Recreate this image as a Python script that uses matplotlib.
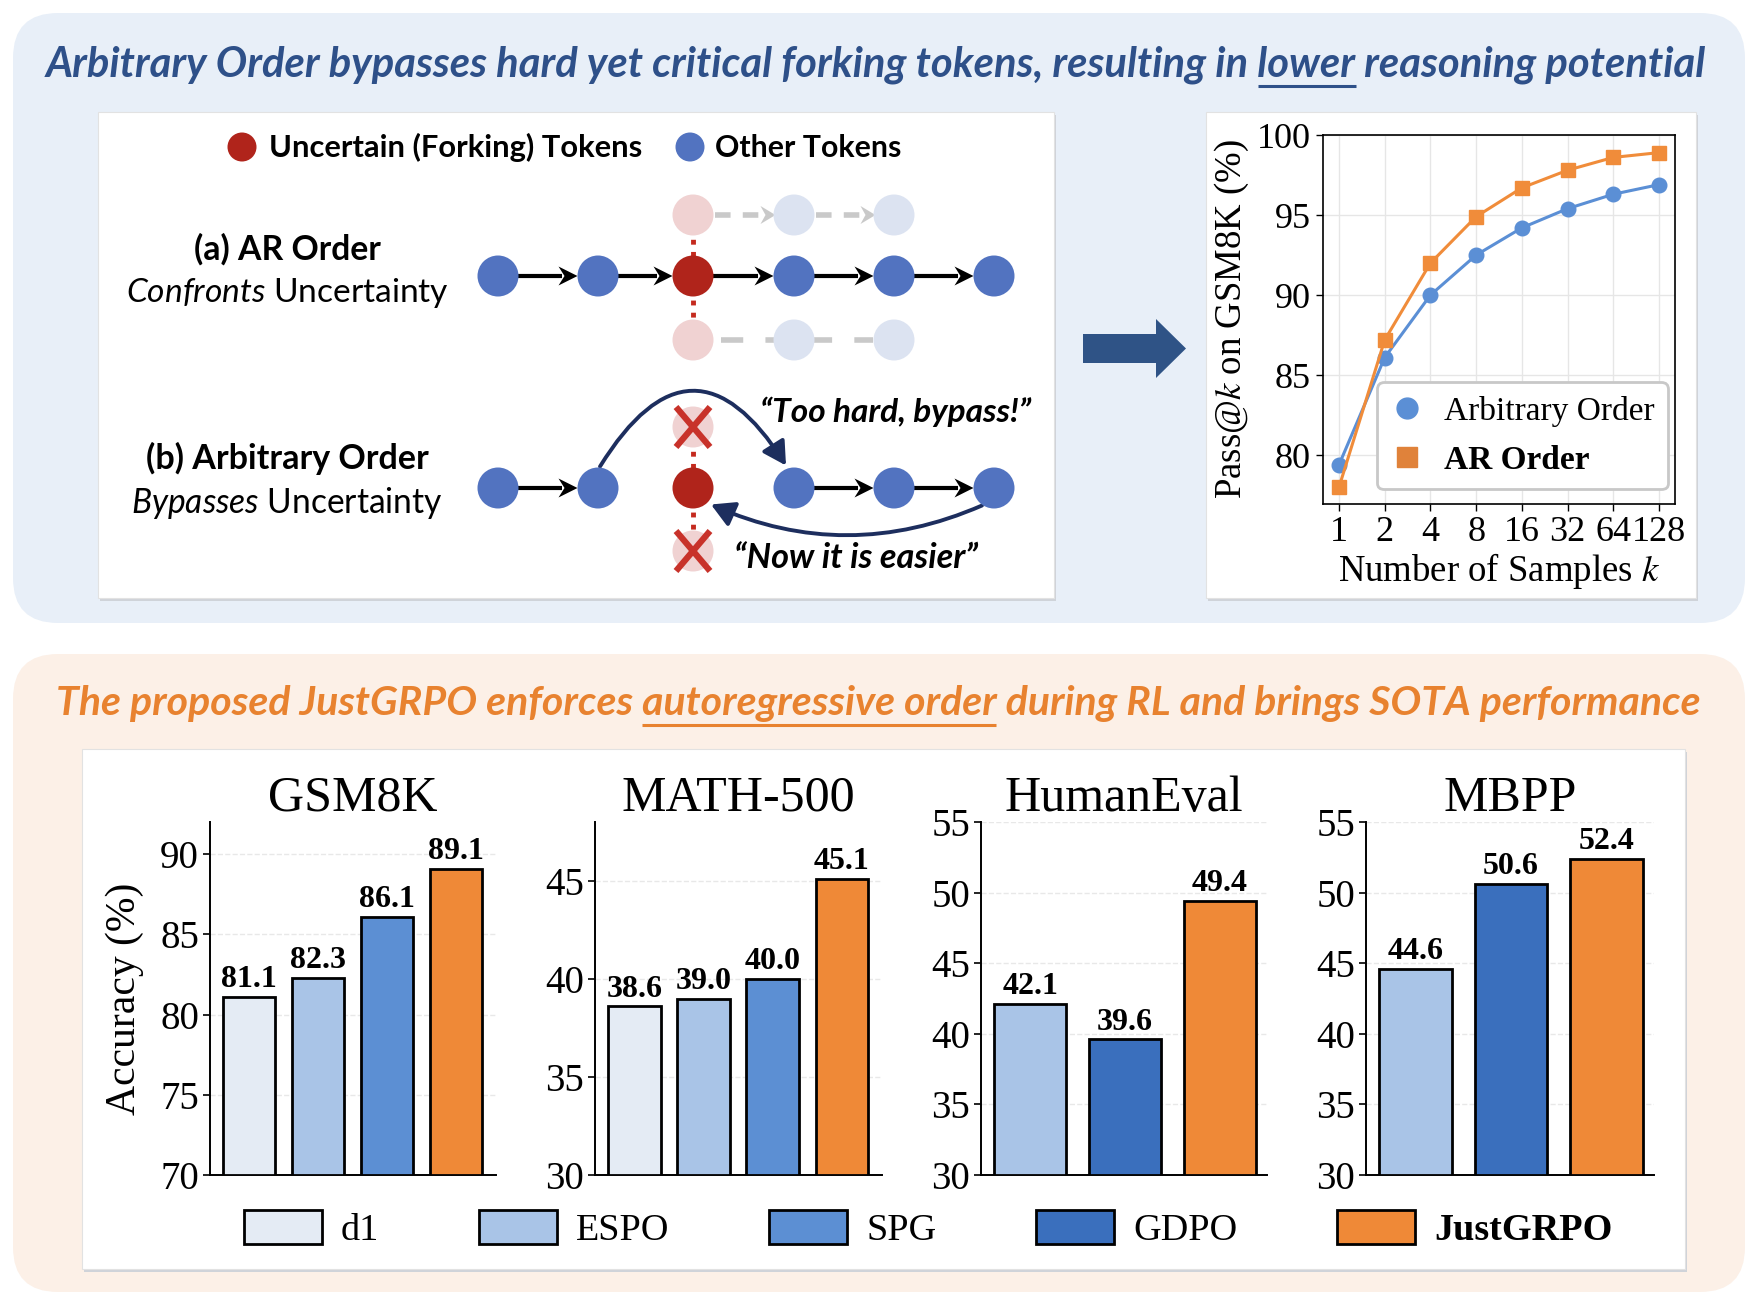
import matplotlib
matplotlib.use('Agg')
import matplotlib.pyplot as plt
from matplotlib.patches import FancyBboxPatch, Circle, FancyArrowPatch, Polygon, Rectangle, Patch
from matplotlib.lines import Line2D
import numpy as np

W, H = 1758, 1306

# ---- data: pass@k curve (top right) ----
k_labels = ['1', '2', '4', '8', '16', '32', '64', '128']
pass_arbitrary = [79.4, 86.1, 90.0, 92.5, 94.2, 95.4, 96.3, 96.9]
pass_ar = [78.0, 87.2, 92.0, 94.9, 96.7, 97.8, 98.6, 98.9]

# ---- data: benchmark bars (bottom) ----
benchmarks = ['GSM8K', 'MATH-500', 'HumanEval', 'MBPP']
bench_methods = [['d1', 'ESPO', 'SPG', 'JustGRPO'],
                 ['d1', 'ESPO', 'SPG', 'JustGRPO'],
                 ['ESPO', 'GDPO', 'JustGRPO'],
                 ['ESPO', 'GDPO', 'JustGRPO']]
bench_scores = [[81.1, 82.3, 86.1, 89.1],
                [38.6, 39.0, 40.0, 45.1],
                [42.1, 39.6, 49.4],
                [44.6, 50.6, 52.4]]
bench_ylim = [(70, 92), (30, 48), (30, 55), (30, 55)]
bench_yticks = [[70, 75, 80, 85, 90], [30, 35, 40, 45],
                [30, 35, 40, 45, 50, 55], [30, 35, 40, 45, 50, 55]]
legend_methods = ['d1', 'ESPO', 'SPG', 'GDPO', 'JustGRPO']
method_colors = {'d1': '#e4ebf4', 'ESPO': '#a9c4e7', 'SPG': '#5c8fd3',
                 'GDPO': '#3a6fbd', 'JustGRPO': '#ef8937'}

plt.rcParams['font.family'] = ['Liberation Serif', 'DejaVu Serif']
plt.rcParams['mathtext.fontset'] = 'custom'
plt.rcParams['mathtext.rm'] = 'Lato'
plt.rcParams['mathtext.it'] = 'Lato:italic'
plt.rcParams['mathtext.bf'] = 'Lato:bold'

SANS = ['Lato', 'DejaVu Sans']

fig = plt.figure(figsize=(W / 100, H / 100), dpi=100)
renderer = fig.canvas.get_renderer()

# background canvas in pixel units (y goes down)
bg = fig.add_axes([0, 0, 1, 1])
bg.set_xlim(0, W)
bg.set_ylim(H, 0)
bg.axis('off')


def text_width(s, size, **kw):
    t = bg.text(0, 0, s, fontsize=size, **kw)
    w = t.get_window_extent(renderer).width
    t.remove()
    return w


# 把文字缩放到给定宽度
def fit_text(x, y, s, width, ha='left', **kw):
    w = text_width(s, 20, **kw)
    size = 20 * width / w
    t = bg.text(x, y, s, fontsize=size, ha=ha, va='baseline', **kw)
    return t, size


def white_box(x0, y0, x1, y1):
    bg.add_patch(Rectangle((x0 + 2, y0 + 3), x1 - x0, y1 - y0, fc='#cfd3d9', ec='none', zorder=1))
    bg.add_patch(Rectangle((x0, y0), x1 - x0, y1 - y0, fc='white', ec='#e2e2e2', lw=0.8, zorder=1))


# panels
bg.add_patch(FancyBboxPatch((13, 13), 1732, 610, boxstyle='round,pad=0,rounding_size=45',
                            fc='#e8eff8', ec='none', zorder=0))
bg.add_patch(FancyBboxPatch((13, 654), 1732, 638, boxstyle='round,pad=0,rounding_size=45',
                            fc='#fcf0e7', ec='none', zorder=0))
white_box(98, 112, 1054, 598)
white_box(1206, 112, 1696, 598)
white_box(82, 749, 1685, 1269)


# titles with an underlined phrase
def title_with_underline(cx, base, s, phrase, width, color):
    kw = dict(family=SANS, fontweight='bold', fontstyle='italic', color=color)
    t, size = fit_text(cx, base, s, width, ha='center', **kw)
    total = text_width(s, size, **kw)
    left = cx - total / 2
    head = s[:s.index(phrase) + len(phrase)]
    end = left + text_width(head, size, **kw)
    start = end - text_width(phrase, size, **kw)
    bg.plot([start, end], [base + 10, base + 10], color=color, lw=2.2, solid_capstyle='butt', zorder=3)


title_with_underline(876, 76, 'Arbitrary Order bypasses hard yet critical forking tokens, resulting in lower reasoning potential',
                     'lower', 1657, '#2e5089')
title_with_underline(878, 715, 'The proposed JustGRPO enforces autoregressive order during RL and brings SOTA performance',
                     'autoregressive order', 1645, '#e8822f')

# ---- schematic (top left) ----
RED = '#b0241b'
BLUE = '#5273c0'
FRED = '#f0d2d2'
FBLUE = '#dce3f1'
GRAY = '#c9c9c9'
r = 20.5
xs = [498, 598, 693, 794, 894, 994]
ya, yb = 276, 488
y_up, y_dn = 215, 340
y_xu, y_xd = 427, 551

# legend of the schematic
bg.add_patch(Circle((242, 147), 14.5, fc=RED, ec='none', zorder=3))
bg.add_patch(Circle((690, 147), 14.5, fc=BLUE, ec='none', zorder=3))
fit_text(269, 157, 'Uncertain (Forking) Tokens', 372, family=SANS, fontweight='bold')
fit_text(715, 157, 'Other Tokens', 186, family=SANS, fontweight='bold')

fit_text(287, 260, '(a) AR Order', 187, ha='center', family=SANS, fontweight='bold')
fit_text(287, 302, r'$\mathit{Confronts}$ Uncertainty', 323, ha='center', family=SANS)
fit_text(287, 469, '(b) Arbitrary Order', 283, ha='center', family=SANS, fontweight='bold')
fit_text(287, 513, r'$\mathit{Bypasses}$ Uncertainty', 312, ha='center', family=SANS)


# 箭头：直线 + 燕尾形箭头
def arrow_head(xtip, y, color, L=19, hw=9.5, notch=6):
    bg.add_patch(Polygon([(xtip, y), (xtip - L, y - hw), (xtip - L + notch, y), (xtip - L, y + hw)],
                         closed=True, fc=color, ec='none', zorder=2.5))


def arrow(x0, x1, y):
    bg.plot([x0, x1 - 15], [y, y], color='black', lw=3.0, solid_capstyle='butt', zorder=2)
    arrow_head(x1, y, 'black')


# (a) row
bg.plot([xs[2], xs[2]], [y_up, y_dn], color='#c42a1e', lw=3.5, ls=(0, (1, 1.5)), zorder=1.5)
for i, x in enumerate(xs):
    bg.add_patch(Circle((x, ya), r, fc=RED if i == 2 else BLUE, ec='none', zorder=3))
for i in range(5):
    arrow(xs[i] + r, xs[i + 1] - r, ya)
for i, x in enumerate(xs[2:5]):
    bg.add_patch(Circle((x, y_up), r, fc=FRED if i == 0 else FBLUE, ec='none', zorder=3))
    bg.add_patch(Circle((x, y_dn), r, fc=FRED if i == 0 else FBLUE, ec='none', zorder=3))
for i in range(2, 4):
    bg.plot([xs[i] + r + 2, xs[i + 1] - r - 12], [y_up, y_up], color=GRAY, lw=4,
            ls=(0, (2.8, 2.2)), zorder=2)
    arrow_head(xs[i + 1] - r + 2, y_up, GRAY, L=15, hw=9, notch=5)
bg.plot([xs[2] + r + 8, xs[4] - r], [y_dn, y_dn], color=GRAY, lw=4,
        ls=(0, (4, 4)), zorder=2)

# (b) row
bg.plot([xs[2], xs[2]], [y_xu, y_xd], color='#c42a1e', lw=3.5, ls=(0, (1, 1.5)), zorder=1.5)
for i, x in enumerate(xs):
    bg.add_patch(Circle((x, yb), r, fc=RED if i == 2 else BLUE, ec='none', zorder=3))
for i in [0, 3, 4]:
    arrow(xs[i] + r, xs[i + 1] - r, yb)
for y in [y_xu, y_xd]:
    bg.add_patch(Circle((xs[2], y), r, fc=FRED, ec='none', zorder=3))
    d = 17
    bg.plot([xs[2] - d, xs[2] + d], [y - d - 3, y + d + 3], color='#c8322a', lw=4.5, zorder=4,
            solid_capstyle='butt')
    bg.plot([xs[2] - d, xs[2] + d], [y + d + 3, y - d - 3], color='#c8322a', lw=4.5, zorder=4,
            solid_capstyle='butt')

NAVY = '#1d2e5e'
bg.add_patch(FancyArrowPatch((xs[1] + 2, yb - r - 1), (xs[3] - 8, yb - r - 2),
                             connectionstyle='arc3,rad=-0.8',
                             arrowstyle='-|>,head_length=0.5,head_width=0.28', mutation_scale=28,
                             color=NAVY, lw=2.8, shrinkA=0, shrinkB=0, zorder=2))
bg.add_patch(FancyArrowPatch((xs[5] - 12, yb + r - 3), (xs[2] + 18, yb + r - 4),
                             connectionstyle='arc3,rad=-0.22',
                             arrowstyle='-|>,head_length=0.5,head_width=0.28', mutation_scale=28,
                             color=NAVY, lw=2.8, shrinkA=0, shrinkB=0, zorder=2))
fit_text(760, 422, '\u201cToo hard, bypass!\u201d', 271, family=SANS, fontweight='bold', fontstyle='italic')
fit_text(734, 568, '\u201cNow it is easier\u201d', 244, family=SANS, fontweight='bold', fontstyle='italic')

# big arrow
bg.add_patch(Polygon([(1083, 334), (1156, 334), (1156, 319), (1186, 348.5), (1156, 378),
                      (1156, 363), (1083, 363)], closed=True, fc='#2f5386', ec='none', zorder=3))

# ---- pass@k line plot ----
ax1 = fig.add_axes([1323 / W, 1 - 504 / H, 352 / W, 369 / H])
xk = np.arange(len(k_labels))
c_blue, c_orange = '#5b8fd5', '#f08c3a'
ax1.plot(xk, pass_arbitrary, color=c_blue, lw=2.2, marker='o', ms=10.5, zorder=3)
ax1.plot(xk, pass_ar, color=c_orange, lw=2.2, marker='s', ms=10, zorder=4)
ax1.set_xlim(-0.35, 7.35)
ax1.set_ylim(76.95, 100)
ax1.set_xticks(xk)
ax1.set_xticklabels(k_labels)
ax1.set_yticks([80, 85, 90, 95, 100])
ax1.tick_params(labelsize=26, length=5, width=1, pad=4)
ax1.grid(True, color='#e6e6e6', lw=1)
ax1.set_axisbelow(True)
for s in ax1.spines.values():
    s.set_linewidth(1.2)
ax1.set_xlabel(r'Number of Samples $k$', fontsize=26.5, math_fontfamily='stix', labelpad=1)
ax1.set_ylabel(r'Pass@$k$ on GSM8K (%)', fontsize=26.5, math_fontfamily='stix')
ax1.yaxis.set_label_coords(-0.205, 0.5)
leg_handles = [Line2D([], [], ls='none', marker='o', ms=15, color=c_blue),
               Line2D([], [], ls='none', marker='s', ms=14, color='#e0823a')]
leg = ax1.legend(leg_handles, ['Arbitrary Order', 'AR Order'], loc='lower right',
                 bbox_to_anchor=(0.98, 0.04), fontsize=24, frameon=True, fancybox=True,
                 edgecolor='#c8c8c8', framealpha=1, borderpad=0.4, labelspacing=0.55,
                 handlelength=1.0, handletextpad=0.6, borderaxespad=0)
leg.get_frame().set_linewidth(2)
leg.get_texts()[1].set_fontweight('bold')

# ---- benchmark bars ----
bar_boxes = [(210, 496), (595, 882), (981, 1267), (1366, 1654)]
bar_top, bar_bottom = 822, 1175
for b, (x0, x1) in enumerate(bar_boxes):
    ax = fig.add_axes([x0 / W, 1 - bar_bottom / H, (x1 - x0) / W, (bar_bottom - bar_top) / H])
    methods = bench_methods[b]
    scores = bench_scores[b]
    pos = np.arange(len(methods))
    ax.bar(pos, [v - bench_ylim[b][0] for v in scores], bottom=bench_ylim[b][0], width=0.76,
           color=[method_colors[m] for m in methods], edgecolor='black', linewidth=2, zorder=3)
    for p, v in zip(pos, scores):
        ax.annotate(f'{v:.1f}', (p, v), xytext=(0, 2), textcoords='offset points',
                    ha='center', va='bottom', fontsize=23, fontweight='bold')
    if len(methods) == 4:
        ax.set_xlim(-0.57, 3.58)
    else:
        ax.set_xlim(-0.52, 2.5)
    ax.set_ylim(*bench_ylim[b])
    ax.set_yticks(bench_yticks[b])
    ax.set_xticks([])
    ax.tick_params(axis='y', labelsize=28, length=5, width=1.2, pad=3)
    ax.grid(axis='y', color='#e8e8e8', lw=1, ls='--')
    ax.set_axisbelow(True)
    ax.spines['top'].set_visible(False)
    ax.spines['right'].set_visible(False)
    ax.spines['left'].set_linewidth(1.4)
    ax.spines['bottom'].set_linewidth(1.4)
    ax.patch.set_alpha(0)
    ax.set_title(benchmarks[b], fontsize=36, pad=8)
    if b == 0:
        ax.set_ylabel('Accuracy (%)', fontsize=30)
        ax.yaxis.set_label_coords(-0.23, 0.5)

handles = [Patch(fc=method_colors[m], ec='black', lw=2) for m in legend_methods]
fleg = fig.legend(handles, legend_methods, ncol=5, loc='center', bbox_to_anchor=(928 / W, 1 - 1229 / H),
                  frameon=False, fontsize=27.5, handlelength=2.05, handleheight=1.0,
                  columnspacing=2.6, handletextpad=0.5)
fleg.get_texts()[-1].set_fontweight('bold')

fig.savefig('out.png', dpi=100)
